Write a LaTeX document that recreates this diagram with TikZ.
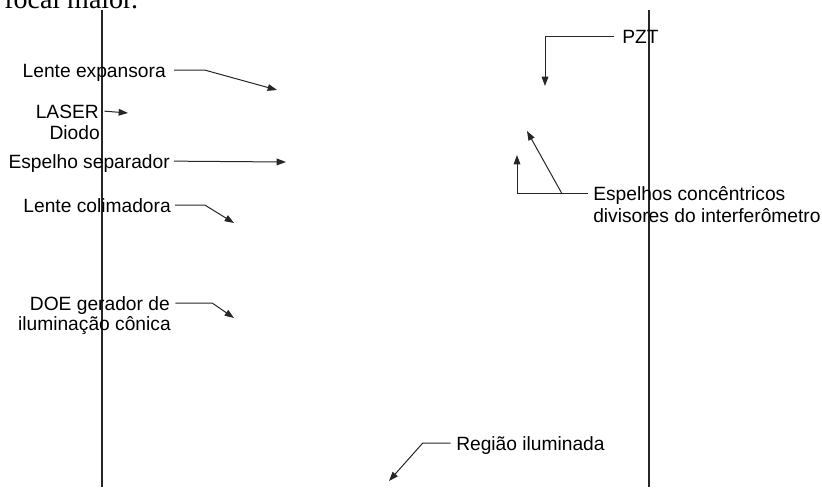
\documentclass[tikz,border=0pt]{standalone}
\usepackage{fontspec}
\setmainfont{Liberation Sans}
\newfontfamily\serifcut{Liberation Serif}
\usetikzlibrary{arrows.meta}
\begin{document}
\begin{tikzpicture}[x=0.75pt,y=-0.75pt,
  lbl/.style={font=\fontsize{14.4}{18}\selectfont, inner sep=0pt, text height=10.3pt, text depth=0pt},
  conn/.style={line width=0.75pt, draw=black!85, -{Triangle[length=7pt,width=5pt]}},
  wall/.style={line width=1.1pt, draw=black!85}]
\useasboundingbox (0,0) rectangle (822,487);
\clip (0,0) rectangle (822,487);
% cut-off text at the top
\node[font=\serifcut\fontsize{21}{24}\selectfont, inner sep=0pt, anchor=base west] (top) at (4,8) {focal maior.};
% vertical lines
\coordinate (l1) at (102,10); \coordinate (l2) at (102,487);
\coordinate (r1) at (649,10); \coordinate (r2) at (649,487);
\draw[wall] (l1) -- (l2);
\draw[wall] (r1) -- (r2);
% labels
\node[lbl, anchor=base east] (lexp) at (166,77) {Lente expansora};
\node[lbl, anchor=base east] (laser) at (99,118) {LASER};
\node[lbl, anchor=base east] (diodo) at (100,139) {Diodo};
\node[lbl, anchor=base east] (esep) at (170,168) {Espelho separador};
\node[lbl, anchor=base east] (lcol) at (171,212) {Lente colimadora};
\node[lbl, anchor=base east] (doe1) at (170,310) {DOE gerador de};
\node[lbl, anchor=base east] (doe2) at (171,330) {iluminação cônica};
\node[lbl, anchor=base west] (pzt) at (622,43) {PZT};
\node[lbl, anchor=base west] (esp1) at (593,200) {Espelhos concêntricos};
\node[lbl, anchor=base west] (esp2) at (593,222) {divisores do interferômetro};
\node[lbl, anchor=base west] (reg) at (456,450) {Região iluminada};
% arrow targets
\coordinate (tlexp) at (277,90);
\coordinate (tlaser) at (128,113);
\coordinate (tesep) at (286,162);
\coordinate (tlcol) at (234,223);
\coordinate (tdoe) at (234,318);
\coordinate (tpzt) at (545,86);
\coordinate (tesa) at (517,155);
\coordinate (tesb) at (527,131);
\coordinate (treg) at (389,481);
% connectors
\draw[conn] ([xshift=6pt]lexp.east) -- ++(31,0) -- (tlexp);
\draw[conn] ([xshift=4pt]laser.east) -- (tlaser);
\draw[conn] ([xshift=3pt]esep.east) -- (tesep);
\draw[conn] ([xshift=3pt]lcol.east) -- ++(30,0) -- (tlcol);
\draw[conn] ([xshift=4pt]doe1.east) -- ++(37,0) -- (tdoe);
\draw[conn] ([xshift=-6pt]pzt.west) -| (tpzt);
\draw[conn] ([xshift=-4pt]esp1.west) -| (tesa);
\draw[conn] ([xshift=-4pt]esp1.west) ++(-26,0) -- (tesb);
\draw[conn] ([xshift=-4pt]reg.west) -- ++(-28,0) -- (treg);
\end{tikzpicture}
\end{document}
